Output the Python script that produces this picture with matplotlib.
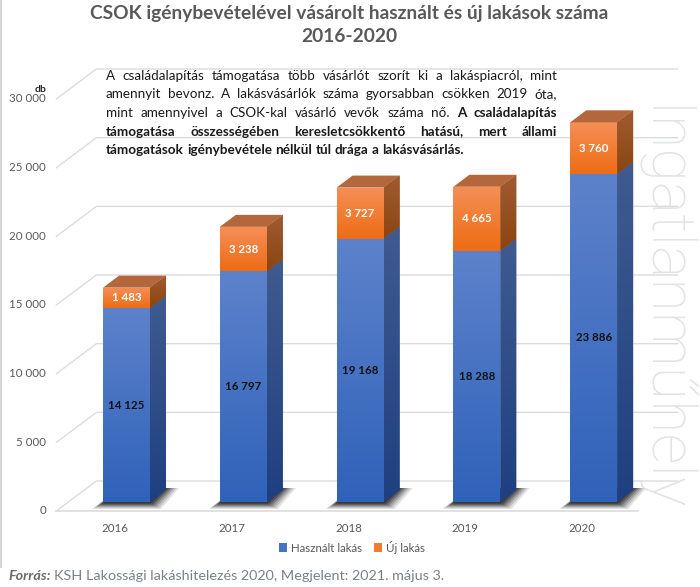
# -*- coding: utf-8 -*-
import numpy as np
import matplotlib
matplotlib.use("Agg")
import matplotlib.pyplot as plt
from matplotlib.colors import to_rgb, LinearSegmentedColormap
from matplotlib.patches import Patch, Polygon
from matplotlib.transforms import IdentityTransform

years = ["2016", "2017", "2018", "2019", "2020"]
hasznalt = [14125, 16797, 19168, 18288, 23886]
uj = [1483, 3238, 3727, 4665, 3760]
y_ticks = [0, 5000, 10000, 15000, 20000, 25000, 30000]

title_lines = ["CSOK igénybevételével vásárolt használt és új lakások száma", "2016-2020"]
source_bold = "Forrás:"
source_text = "KSH Lakossági lakáshitelezés 2020, Megjelent: 2021. május 3."
watermark = "Ingatlanműhely"

# (regular part, bold part) of every line of the note
note_lines = [
    ("A családalapítás támogatása több vásárlót szorít ki a lakáspiacról, mint", ""),
    ("amennyit bevonz. A lakásvásárlók száma gyorsabban csökken 2019 óta,", ""),
    ("mint amennyivel a CSOK-kal vásárló vevők száma nő.", "A családalapítás"),
    ("", "támogatása összességében keresletcsökkentő hatású, mert állami"),
    ("", "támogatások igénybevétele nélkül túl drága a lakásvásárlás."),
]

W, H = 700, 587
FONT = "Lato"

plt.rcParams["font.family"] = [FONT, "DejaVu Sans"]
fig = plt.figure(figsize=(W / 100, H / 100), dpi=100, facecolor="white")
ax = fig.add_axes([0, 0, 1, 1])
ax.axis("off")
ax.set_autoscale_on(False)

# bar zero sits at pixel row 502, 412 px = 30000, first bar centre at 126.5, step 116.8
scale = 412 / 30000
step = 116.8
ax.set_xlim(-126.5 / step, (W - 126.5) / step)
ax.set_ylim(-(H - 502) / scale, 502 / scale)
bar_w = 47 / step
dep_x, dep_y = 16, 12
ident = IdentityTransform()


def px(x, y):
    # image pixel (y from the top) to display coords
    return (x, H - y)


def pt(x, v, dx=0, dy=0):
    d = ax.transData.transform((x, v))
    return (d[0] + dx, d[1] + dy)


def grad_fill(patch, top, bottom, zorder):
    # vertical gradient clipped to a patch
    xy = patch.get_transform().transform(patch.get_path().vertices)
    c = LinearSegmentedColormap.from_list("g", [to_rgb(top), to_rgb(bottom)])
    im = ax.imshow(np.linspace(0, 1, 128)[:, None], cmap=c, aspect="auto", origin="upper",
                   extent=(xy[:, 0].min(), xy[:, 0].max(), xy[:, 1].min(), xy[:, 1].max()),
                   transform=ident, zorder=zorder, interpolation="bilinear")
    im.set_clip_path(patch)


# watermark goes under everything
wm_x, wm_y = px(645, 106)
fig.text(wm_x / W, wm_y / H, watermark, rotation=-90, rotation_mode="anchor", ha="left", va="baseline",
         fontsize=44, color="#e2e3e6", family=["Roboto", "DejaVu Sans"], fontweight="light", zorder=0)

# gridlines: front edge 9 px under bar zero, back wall 21 px above, 40 px deep
grid_l, grid_r = -0.6, 4.375
for v in y_ticks:
    a = pt(grid_l, v, 0, -9)
    b = pt(grid_l, v, 40, 21)
    c = pt(grid_r, v, 40, 21)
    ax.plot([a[0], b[0], c[0]], [a[1], b[1], c[1]], color="#dcdcdc", lw=1.0, transform=ident, zorder=1)
    ax.text(46, a[1], f"{v:,}".replace(",", " "), transform=ident, ha="right", va="center",
            fontsize=8.3, color="#595959")
f1 = pt(grid_l, 0, 0, -9)
f2 = pt(grid_r, 0, 0, -9)
ax.plot([f1[0], f2[0]], [f1[1], f2[1]], color="#dcdcdc", lw=1.2, transform=ident, zorder=1)

lx, ly = px(35, 90)
ax.text(lx, ly, "db", transform=ident, ha="left", va="center", fontsize=7.5, fontweight="bold", color="#222222")

x = np.arange(len(years))
bars1 = ax.bar(x, hasznalt, bar_w, color="#4472c4", zorder=3)
bars2 = ax.bar(x, uj, bar_w, bottom=hasznalt, color="#ed7d31", zorder=3)

for i in range(len(years)):
    used, new = hasznalt[i], uj[i]
    l, r = i - bar_w / 2, i + bar_w / 2

    # soft shadow on the floor, stacked translucent shapes
    for grow, alpha in zip([11, 9, 7, 5, 3, 1], [0.12, 0.16, 0.22, 0.3, 0.4, 0.5]):
        sh = Polygon([pt(l, 0, -grow, -1 - grow * 0.55), pt(r, 0, grow, -1 - grow * 0.55),
                      pt(r, 0, dep_x + grow * 1.2, dep_y + 2), pt(l, 0, dep_x, dep_y + 2)],
                     closed=True, transform=ident, facecolor="#202020", alpha=alpha, lw=0, zorder=2)
        ax.add_patch(sh)

    grad_fill(bars1[i], "#5d82cb", "#2f62b9", 4)
    grad_fill(bars2[i], "#f58f57", "#ee6c14", 4)

    side1 = Polygon([pt(r, 0), pt(r, used), pt(r, used, dep_x, dep_y), pt(r, 0, dep_x, dep_y)],
                    closed=True, transform=ident, lw=0, facecolor="#2c4f8c", zorder=3)
    ax.add_patch(side1)
    grad_fill(side1, "#3f5b90", "#1f3f80", 4)
    side2 = Polygon([pt(r, used), pt(r, used + new), pt(r, used + new, dep_x, dep_y), pt(r, used, dep_x, dep_y)],
                    closed=True, transform=ident, lw=0, facecolor="#965020", zorder=3)
    ax.add_patch(side2)
    grad_fill(side2, "#a05c32", "#8a4510", 4)
    ax.add_patch(Polygon([pt(l, used + new), pt(r, used + new), pt(r, used + new, dep_x, dep_y),
                          pt(l, used + new, dep_x, dep_y)],
                         closed=True, transform=ident, lw=0, facecolor="#b4673b", zorder=4))

    ax.text(i, used / 2, f"{used:,}".replace(",", " "), ha="center", va="center", fontsize=8.3,
            fontweight="bold", color="#111111", zorder=6)
    ax.text(i, used + new / 2, f"{new:,}".replace(",", " "), ha="center", va="center", fontsize=8.3,
            fontweight="bold", color="white", zorder=6)

    yx, yy = pt(i, 0, -11.5, 0)
    ax.text(yx, H - 528, years[i], transform=ident, ha="center", va="center", fontsize=8.3, color="#595959")

renderer = fig.canvas.get_renderer()


def width(s, **kw):
    t = ax.text(0, 0, s, transform=ident, **kw)
    w = t.get_window_extent(renderer).width
    t.remove()
    return w


# justified note, word by word
note_l, note_r = 106, 557
note_y = [76, 94.5, 113, 131.5, 150]
note_size = 9.7
for n, (reg, bold) in enumerate(note_lines):
    words = [(w, "normal") for w in reg.split()] + [(w, "bold") for w in bold.split()]
    widths = [width(w, fontsize=note_size, fontweight=fw) for w, fw in words]
    if n == len(note_lines) - 1:
        gap = width("a a", fontsize=note_size, fontweight="bold") - 2 * width("a", fontsize=note_size, fontweight="bold")
    else:
        gap = (note_r - note_l - sum(widths)) / (len(words) - 1)
    cur = note_l
    for (w, fw), ww in zip(words, widths):
        ax.text(cur, H - note_y[n], w, transform=ident, ha="left", va="center", fontsize=note_size,
                fontweight=fw, color="#1a1a1a", zorder=7)
        cur += ww + gap

fig.text(349 / W, 1 - 14 / H, title_lines[0], ha="center", va="center", fontsize=13.8, fontweight="bold", color="#595959")
fig.text(349 / W, 1 - 36 / H, title_lines[1], ha="center", va="center", fontsize=13.8, fontweight="bold", color="#595959")

handles = [Patch(facecolor="#4472c4", label="Használt lakás"), Patch(facecolor="#ed7d31", label="Új lakás")]
fig.legend(handles=handles, loc="center", bbox_to_anchor=(352 / W, 1 - 547 / H), ncol=2, frameon=False,
           fontsize=8.3, labelcolor="#595959", handlelength=0.7, handleheight=0.7, handletextpad=0.35,
           columnspacing=1.0, borderpad=0)

t = fig.text(8 / W, 1 - 576 / H, source_bold, ha="left", va="center", fontsize=10.4, fontweight="bold",
             fontstyle="italic", color="#6b6b6b")
sw = t.get_window_extent(renderer).width
fig.text((8 + sw + 3) / W, 1 - 576 / H, source_text, ha="left", va="center", fontsize=10.4, color="#7b808a")

# chart border on the left
fig.add_artist(plt.Line2D([0.5 / W, 0.5 / W], [1, 1 - 567 / H], color="#d4d4d4", lw=1.4))

fig.savefig("out.png", dpi=100, facecolor="white")
